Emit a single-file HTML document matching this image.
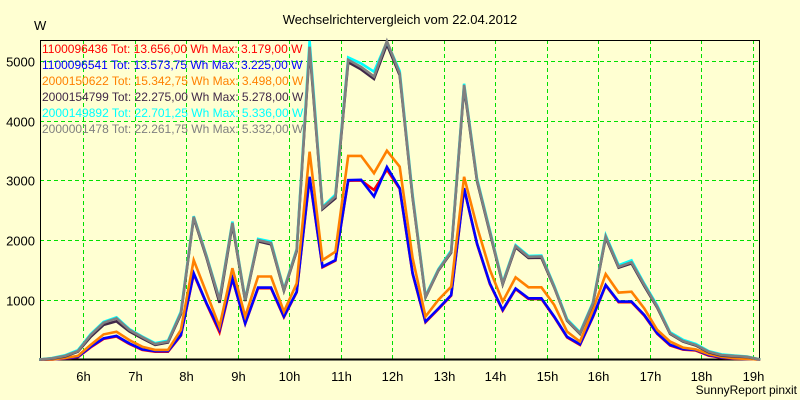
<!DOCTYPE html>
<html><head><meta charset="utf-8"><style>
html,body{margin:0;padding:0;background:#ffffd2;}
svg{display:block;font-family:"Liberation Sans",sans-serif;}
</style></head><body>
<svg id="chart" width="800" height="400" xmlns="http://www.w3.org/2000/svg">
<rect x="0" y="0" width="800" height="400" fill="#ffffd2"/>
<text x="400" y="24" text-anchor="middle" font-size="13" fill="#000">Wechselrichtervergleich vom 22.04.2012</text>
<text x="34" y="30" font-size="13" fill="#000">W</text>
<text x="797" y="394" text-anchor="end" font-size="12" fill="#000">SunnyReport pinxit</text>
<g id="grid"></g>
<g id="axes"></g>
<g id="series"></g>
<g id="legend"></g>
</svg>
<script>
const startHour = 5.15;
const stepHour = 0.25;
const yTicks = [1000, 2000, 3000, 4000, 5000];
const xTickHours = [6,7,8,9,10,11,12,13,14,15,16,17,18,19];
const seriesNames = ["1100096436","1100096541","2000150622","2000154799","2000149892","2000001478"];
const legendTexts = [
 "1100096436 Tot: 13.656,00 Wh Max: 3.179,00 W",
 "1100096541 Tot: 13.573,75 Wh Max: 3.225,00 W",
 "2000150622 Tot: 15.342,75 Wh Max: 3.498,00 W",
 "2000154799 Tot: 22.275,00 Wh Max: 5.278,00 W",
 "2000149892 Tot: 22.701,25 Wh Max: 5.336,00 W",
 "2000001478 Tot: 22.261,75 Wh Max: 5.332,00 W"];
const seriesColors = ["#ff0000","#0000ff","#ff8000","#402848","#00ffff","#808080"];
const red = [0,0,15,40,205,345,385,260,160,130,130,400,1430,930,455,1350,600,1195,1195,710,1125,3040,1545,1655,2995,3000,2840,3179,2860,1435,625,845,1070,2860,1935,1265,820,1180,1015,1015,710,370,245,710,1240,960,960,735,430,235,165,150,65,30,12,8,0];
const blue = [0,0,20,45,215,355,395,270,170,140,140,410,1445,940,495,1360,605,1205,1205,720,1135,3060,1555,1665,3005,3010,2730,3225,2870,1445,635,855,1080,2870,1945,1275,830,1190,1025,1025,720,380,255,720,1250,970,970,745,440,245,175,160,75,35,15,10,0];
const orange = [0,0,25,60,245,420,465,325,215,160,160,495,1665,1110,550,1530,720,1390,1390,800,1275,3480,1665,1805,3410,3410,3120,3498,3230,1700,720,1000,1220,3060,2225,1500,970,1375,1210,1210,915,465,300,830,1430,1120,1135,855,495,300,200,170,90,45,20,10,0];
const dark = [0,15,50,130,380,580,640,470,355,245,285,760,2370,1700,950,2260,980,1980,1930,1150,1815,5200,2520,2700,4980,4860,4700,5278,4760,2710,1040,1490,1790,4560,2990,2120,1260,1880,1700,1705,1210,650,430,930,2040,1540,1610,1230,870,430,300,235,120,65,50,40,0];
const cyan = [0,25,70,155,425,630,705,510,385,275,315,800,2400,1735,1015,2310,1010,2020,1975,1180,1850,5336,2555,2760,5060,4960,4820,5320,4830,2760,1065,1515,1825,4620,3030,2160,1290,1915,1735,1740,1235,675,455,955,2080,1580,1660,1270,905,455,330,260,140,85,65,50,0];
const gray = [0,20,60,140,410,615,690,495,375,260,300,780,2390,1720,1000,2290,1000,2000,1950,1165,1835,5240,2540,2730,5020,4900,4740,5332,4790,2730,1050,1500,1805,4600,3010,2140,1275,1900,1720,1725,1220,660,440,940,2060,1555,1630,1250,885,440,310,245,130,75,60,45,0];
const allSeries = [red, blue, orange, dark, cyan, gray];

const NS = "http://www.w3.org/2000/svg";
const L = 40, T = 40, R = 759, B = 359;
function xScale(h){ return 83 + (h - 6) * 51.5; }
function yScale(v){ return 359.5 - v * 0.0597; }
function mk(tag, attrs, parent){ const e = document.createElementNS(NS, tag); for (const k in attrs) e.setAttribute(k, attrs[k]); parent.appendChild(e); return e; }

const grid = document.getElementById('grid');
const axes = document.getElementById('axes');
yTicks.forEach(v => {
  const y = Math.round(yScale(v)) + 0.5;
  const g = mk('line', {x1:L, x2:R, y1:y, y2:y, stroke:'#00e000', 'stroke-width':1, 'stroke-dasharray':'4,3'}, grid);
  
  
  const t = mk('text', {x:35, y:y+5, 'text-anchor':'end', 'font-size':13, fill:'#000'}, axes);
  t.textContent = v;
  
  
});
xTickHours.forEach(h => {
  const x = Math.round(xScale(h)) + 0.5;
  const g = mk('line', {x1:x, x2:x, y1:T, y2:B, stroke:'#00e000', 'stroke-width':1, 'stroke-dasharray':'4,3'}, grid);
  
  
  const t = mk('text', {x:x, y:381, 'text-anchor':'middle', 'font-size':13, fill:'#000'}, axes);
  t.textContent = h + 'h';
  
  
});
const frame = mk('rect', {x:L+0.5, y:T+0.5, width:R-L, height:B-T, fill:'none', stroke:'#000', 'stroke-width':1}, axes);


const base = mk('line', {x1:L, x2:R+1, y1:B+0.5, y2:B+0.5, stroke:'#000', 'stroke-width':2}, axes);



const series = document.getElementById('series');
allSeries.forEach((arr, i) => {
  const pts = arr.map((v, k) => xScale(startHour + k * stepHour).toFixed(1) + ',' + yScale(v).toFixed(1)).join(' ');
  const p = mk('polyline', {points:pts, fill:'none', stroke:seriesColors[i], 'stroke-width':2.6, 'stroke-linejoin':'miter'}, series);
  
  
});

const legend = document.getElementById('legend');
legendTexts.forEach((s, i) => {
  const t = mk('text', {x:42, y:53 + i * 16, 'font-size':12, fill:seriesColors[i]}, legend);
  t.textContent = s;
  
  
});
</script>
</body></html>
